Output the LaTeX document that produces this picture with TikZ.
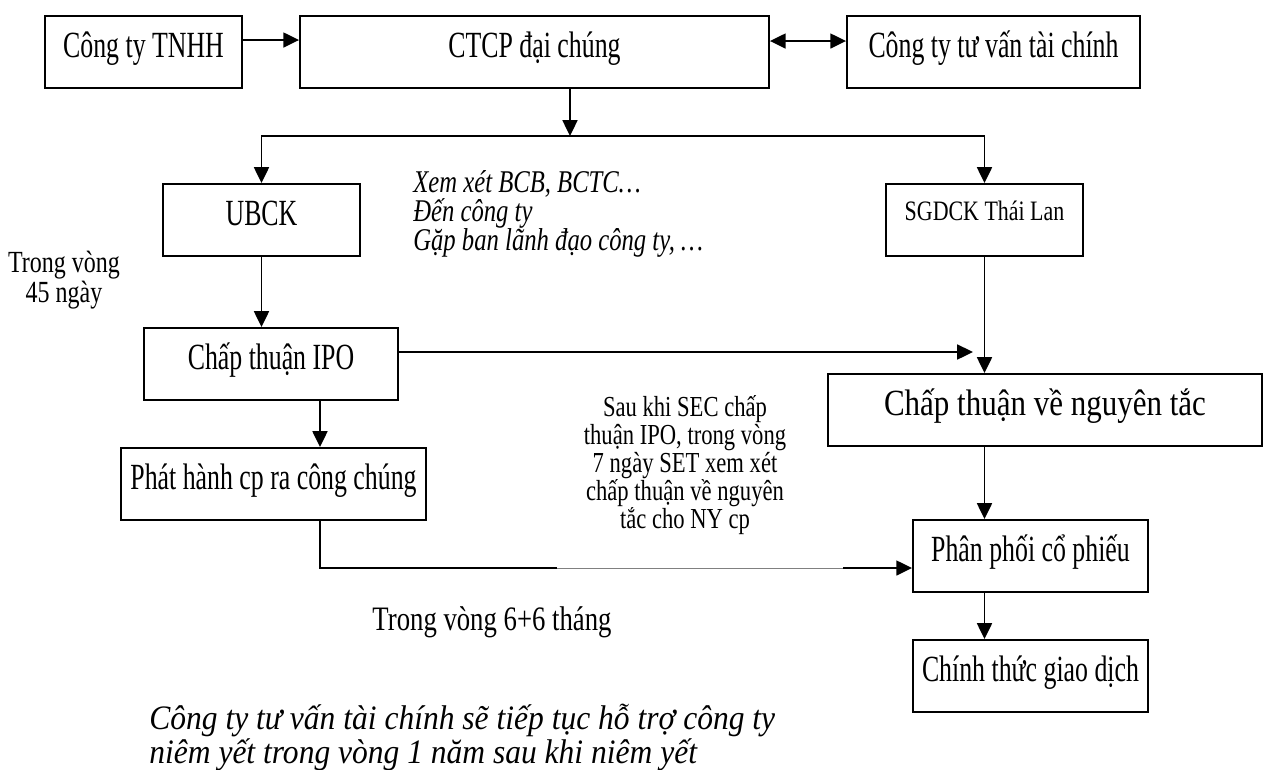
\documentclass[tikz,border=0pt]{standalone}
\usepackage{fontspec}
\setmainfont[FakeStretch=0.78]{Liberation Serif}
\newfontfamily\boitefont[FakeStretch=0.7]{Liberation Serif}
\newfontfamily\boitelarge[FakeStretch=0.84]{Liberation Serif}
\newfontfamily\italbas[FakeStretch=0.92]{Liberation Serif}
\usetikzlibrary{arrows.meta}

\tikzset{
  boite/.style={draw, line width=1.1pt, inner xsep=0pt, inner ysep=0pt,
    minimum height=1.44cm, text height=0.82cm, text depth=0.62cm,
    font=\boitefont\fontsize{21}{23}\selectfont},
  fleche/.style={line width=1.1pt, -{Triangle[length=9pt,width=8.5pt]}},
  flechedouble/.style={line width=1.1pt,
    {Triangle[length=9pt,width=8.5pt]}-{Triangle[length=9pt,width=8.5pt]}},
  texte/.style={inner sep=0pt}
}

\begin{document}
\begin{tikzpicture}[x=0.02cm,y=-0.02cm]
% Cadre : 1272 x 769 (une unite = un pixel)
\useasboundingbox (0,0) rectangle (1272,769);

% Ligne du haut
\node[boite, minimum width=3.94cm] (tnhh) at (143.5,52) {Công ty TNHH};
\node[boite, minimum width=9.38cm] (ctcp) at (534.5,52) {CTCP đại chúng};
\node[boite, minimum width=5.86cm] (tvtc) at (993.5,52) {Công ty tư vấn tài chính};

% Colonne de gauche
\node[boite, minimum width=3.94cm] (ubck) at (261.5,220) {UBCK};
\node[boite, minimum width=5.08cm] (ipo) at (271,364) {Chấp thuận IPO};
\node[boite, minimum width=6.1cm] (phathanh) at (273.5,484) {Phát hành cp ra công chúng};

% Colonne de droite
\node[boite, minimum width=3.94cm, text height=0.72cm, text depth=0.72cm,
  font=\fontsize{16}{18}\selectfont] (sgdck) at (984.5,220) {SGDCK Thái Lan};
\node[boite, minimum width=8.68cm, font=\boitelarge\fontsize{21}{23}\selectfont]
  (nguyentac) at (1045,410) {Chấp thuận về nguyên tắc};
\node[boite, minimum width=4.7cm] (phanphoi) at (1030.5,556) {Phân phối cổ phiếu};
\node[boite, minimum width=4.7cm] (giaodich) at (1030.5,676) {Chính thức giao dịch};

% Textes libres
\node[texte, anchor=north, align=center, font=\fontsize{17.5}{17}\selectfont]
  (delai45) at (64,251) {Trong vòng\\45 ngày};
\node[texte, anchor=north west, align=left, font=\itshape\fontsize{18}{16.5}\selectfont]
  (xemxet) at (413,170) {Xem xét BCB, BCTC…\\Đến công ty\\Gặp ban lãnh đạo công ty, …};
\node[texte, anchor=north, align=center, font=\fontsize{16.5}{15.9}\selectfont]
  (sec) at (685,395) {Sau khi SEC chấp\\thuận IPO, trong vòng\\7 ngày SET xem xét\\chấp thuận về nguyên\\tắc cho NY cp};
\node[texte, anchor=base, font=\fontsize{19.5}{22}\selectfont]
  (delai6) at (492,630) {Trong vòng 6+6 tháng};
\node[texte, anchor=north west, align=left, font=\italbas\itshape\fontsize{19.5}{19.3}\selectfont]
  (hotro) at (149,704) {Công ty tư vấn tài chính sẽ tiếp tục hỗ trợ công ty\\niêm yết trong vòng 1 năm sau khi niêm yết};

% Fleches du haut
\draw[fleche] ([yshift=0.24cm]tnhh.east) -- ([yshift=0.24cm]ctcp.west);
\draw[flechedouble] ([yshift=0.22cm]ctcp.east) -- ([yshift=0.22cm]tvtc.west);
\coordinate (departCTCP) at ([xshift=0.71cm]ctcp.south);
\coordinate (partage) at (departCTCP |- 0,136);
\draw[fleche] (departCTCP) -- (partage);
\draw[fleche] (partage) -| (ubck.north);
\draw[fleche] (partage) -| (sgdck.north);

% Fleches de gauche
\draw[fleche] (ubck.south) -- (ubck.south |- ipo.north);
\coordinate (axeG) at ([xshift=0.98cm]ipo.south);
\draw[fleche] (axeG) -- (axeG |- phathanh.north);
\coordinate (ipoR) at ([yshift=0.24cm]ipo.east);
\coordinate (pointe) at ([xshift=-0.23cm]sgdck.south |- ipoR);
\draw[fleche] (ipoR) -- (pointe);
\draw[fleche] (axeG |- phathanh.south) |- ([yshift=-0.24cm]phanphoi.west);
\coordinate (trouG) at (557,568);
\coordinate (trouD) at (843,568);
\draw[white, line width=2pt] (trouG) -- (trouD);
\draw[gray, line width=0.5pt] (trouG) -- (trouD);

% Fleches de droite
\draw[fleche] (sgdck.south) -- (sgdck.south |- nguyentac.north);
\draw[fleche] (sgdck.south |- nguyentac.south) -- (sgdck.south |- phanphoi.north);
\draw[fleche] (sgdck.south |- phanphoi.south) -- (sgdck.south |- giaodich.north);
\end{tikzpicture}
\end{document}
